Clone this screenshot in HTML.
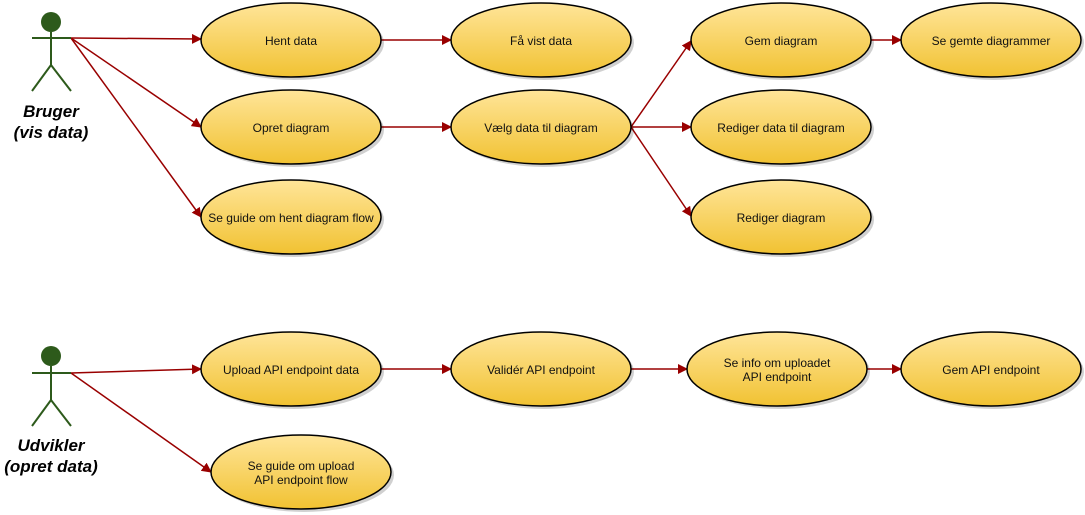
<!DOCTYPE html>
<html><head><meta charset="utf-8"><style>html,body{margin:0;padding:0;background:#fff}svg{display:block}</style></head>
<body>
<svg width="1085" height="515" viewBox="0 0 1085 515" xmlns="http://www.w3.org/2000/svg" font-family="Liberation Sans, sans-serif">
<defs>
<linearGradient id="g" x1="0" y1="0" x2="0" y2="1"><stop offset="0" stop-color="#ffe599"/><stop offset="1" stop-color="#f1c232"/></linearGradient>
<marker id="a" markerWidth="10" markerHeight="10" refX="9" refY="5" orient="auto" markerUnits="userSpaceOnUse"><path d="M0,0 L10,5 L0,10 Z" fill="#990000"/></marker>
</defs>
<g stroke="#990000" stroke-width="1.5" fill="none" marker-end="url(#a)">
<line x1="71" y1="38" x2="201" y2="39"/>
<line x1="71" y1="38" x2="201" y2="127"/>
<line x1="71" y1="38" x2="201" y2="217"/>
<line x1="381" y1="40" x2="451" y2="40"/>
<line x1="381" y1="127" x2="451" y2="127"/>
<line x1="631" y1="127" x2="691" y2="41"/>
<line x1="631" y1="127" x2="691" y2="127"/>
<line x1="631" y1="127" x2="691" y2="216"/>
<line x1="871" y1="40" x2="901" y2="40"/>
<line x1="71" y1="373" x2="201" y2="369"/>
<line x1="71" y1="373" x2="211" y2="472"/>
<line x1="381" y1="369" x2="451" y2="369"/>
<line x1="631" y1="369" x2="687" y2="369"/>
<line x1="867" y1="369" x2="901" y2="369"/>
</g>
<g fill="#000" opacity="0.18">
<ellipse cx="294" cy="43" rx="90" ry="37"/><ellipse cx="544" cy="43" rx="90" ry="37"/><ellipse cx="784" cy="43" rx="90" ry="37"/><ellipse cx="994" cy="43" rx="90" ry="37"/>
<ellipse cx="294" cy="130" rx="90" ry="37"/><ellipse cx="544" cy="130" rx="90" ry="37"/><ellipse cx="784" cy="130" rx="90" ry="37"/>
<ellipse cx="294" cy="220" rx="90" ry="37"/><ellipse cx="784" cy="220" rx="90" ry="37"/>
<ellipse cx="294" cy="372" rx="90" ry="37"/><ellipse cx="544" cy="372" rx="90" ry="37"/><ellipse cx="780" cy="372" rx="90" ry="37"/><ellipse cx="994" cy="372" rx="90" ry="37"/>
<ellipse cx="304" cy="475" rx="90" ry="37"/>
</g>
<g fill="url(#g)" stroke="#000" stroke-width="1.5">
<ellipse cx="291" cy="40" rx="90" ry="37"/><ellipse cx="541" cy="40" rx="90" ry="37"/><ellipse cx="781" cy="40" rx="90" ry="37"/><ellipse cx="991" cy="40" rx="90" ry="37"/>
<ellipse cx="291" cy="127" rx="90" ry="37"/><ellipse cx="541" cy="127" rx="90" ry="37"/><ellipse cx="781" cy="127" rx="90" ry="37"/>
<ellipse cx="291" cy="217" rx="90" ry="37"/><ellipse cx="781" cy="217" rx="90" ry="37"/>
<ellipse cx="291" cy="369" rx="90" ry="37"/><ellipse cx="541" cy="369" rx="90" ry="37"/><ellipse cx="777" cy="369" rx="90" ry="37"/><ellipse cx="991" cy="369" rx="90" ry="37"/>
<ellipse cx="301" cy="472" rx="90" ry="37"/>
</g>
<g font-size="12" fill="#111" text-anchor="middle">
<text x="291" y="45">Hent data</text><text x="541" y="45">Få vist data</text><text x="781" y="45">Gem diagram</text><text x="991" y="45">Se gemte diagrammer</text>
<text x="291" y="132">Opret diagram</text><text x="541" y="132">Vælg data til diagram</text><text x="781" y="132">Rediger data til diagram</text>
<text x="291" y="222">Se guide om hent diagram flow</text><text x="781" y="222">Rediger diagram</text>
<text x="291" y="374">Upload API endpoint data</text><text x="541" y="374">Validér API endpoint</text>
<text x="777" y="367">Se info om uploadet</text><text x="777" y="381">API endpoint</text>
<text x="991" y="374">Gem API endpoint</text>
<text x="301" y="470">Se guide om upload</text><text x="301" y="484">API endpoint flow</text>
</g>
<g stroke="#2d5a1b" stroke-width="2" fill="none">
<line x1="32" y1="38" x2="71" y2="38"/><line x1="51" y1="32" x2="51" y2="65"/><line x1="51" y1="65" x2="32" y2="91"/><line x1="51" y1="65" x2="71" y2="91"/>
<line x1="32" y1="373" x2="71" y2="373"/><line x1="51" y1="366" x2="51" y2="400"/><line x1="51" y1="400" x2="32" y2="426"/><line x1="51" y1="400" x2="71" y2="426"/>
</g>
<circle cx="51" cy="22" r="10" fill="#2d5a1b"/><circle cx="51" cy="356" r="10" fill="#2d5a1b"/>
<g font-size="17" font-weight="bold" font-style="italic" fill="#000" text-anchor="middle">
<text x="51" y="117">Bruger</text><text x="51" y="138">(vis data)</text>
<text x="51" y="451">Udvikler</text><text x="51" y="472">(opret data)</text>
</g>
</svg>
</body></html>
